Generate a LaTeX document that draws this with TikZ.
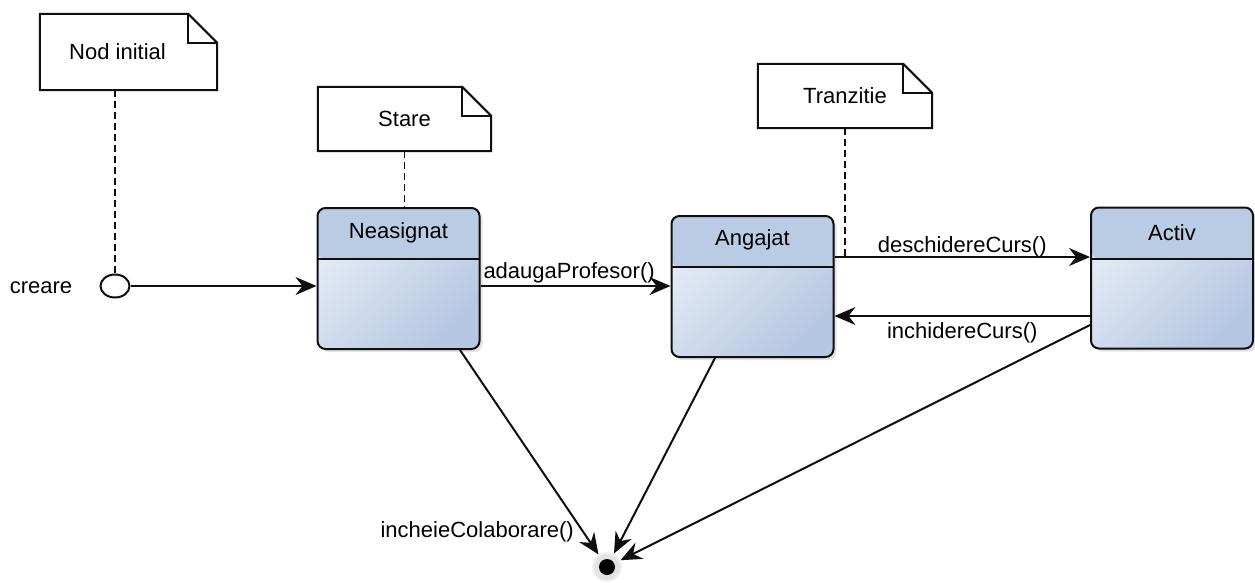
\documentclass[tikz,border=0pt]{standalone}
\usepackage{fontspec}
\setmainfont{Liberation Sans}
\usetikzlibrary{arrows.meta,shadows,shapes.geometric,calc}

\definecolor{hdr}{RGB}{185,204,228}
\definecolor{bodyA}{RGB}{230,236,246}
\definecolor{bodyB}{RGB}{181,199,226}
\definecolor{ln}{RGB}{15,15,15}

\tikzset{
  lbl/.style={font=\fontsize{22}{26}\selectfont, inner sep=0pt},
  state/.style={draw=ln, line width=2pt, rounded corners=8pt,
    minimum width=162pt, minimum height=141pt,
    top color=bodyA, bottom color=bodyB, shading angle=45,
    drop shadow={opacity=0.22, shadow xshift=3pt, shadow yshift=-3pt},
    path picture={
      \fill[hdr] (path picture bounding box.north west) rectangle
        ([yshift=-51pt]path picture bounding box.north east);
      \draw[ln, line width=2pt] ([yshift=-51pt]path picture bounding box.north west) --
        ([yshift=-51pt]path picture bounding box.north east);
    }},
  notebox/.style={inner sep=0pt},
  noteline/.style={draw=ln, line width=2pt, fill=white, line join=miter},
  arr/.style={draw=ln, line width=2pt, -{Stealth[length=21pt,width=18pt,inset=7pt]}},
  dashline/.style={draw=ln, line width=1.6pt, dash pattern=on 7pt off 4pt},
  initnode/.style={draw=ln, line width=2pt, ellipse, fill=white,
    minimum width=29pt, minimum height=23pt, inner sep=0pt},
  finalnode/.style={circle, minimum size=30pt, inner sep=0pt, fill=gray!12,
    path picture={
      \fill[gray!22] (path picture bounding box.center) circle (13pt);
      \fill[black] (path picture bounding box.center) circle (8pt);
    }},
}

% note outline with a folded top-right corner
\newcommand\notefold[1]{%
  \draw[noteline] (#1.north west) -- ([xshift=-29pt]#1.north east) --
    ([yshift=-29pt]#1.north east) -- (#1.south east) -- (#1.south west) -- cycle;
  \draw[noteline, fill=none] ([xshift=-29pt]#1.north east) |- ([yshift=-29pt]#1.north east);
}

\begin{document}
\begin{tikzpicture}[x=1pt, y=-1pt]
  \fill[white] (0,0) rectangle (1255,582);
  \useasboundingbox (0,0) rectangle (1255,582);

  % notes
  \node[notebox, minimum width=177pt, minimum height=76pt] (ninit) at (128.5,52) {};
  \notefold{ninit}
  \node[lbl] (ninitT) at ([xshift=-11pt]ninit.center) {Nod initial};

  \node[notebox, minimum width=173pt, minimum height=64pt] (nstare) at (404.5,119) {};
  \notefold{nstare}
  \node[lbl] (nstareT) at (nstare.center) {Stare};

  \node[notebox, minimum width=174pt, minimum height=64pt] (ntran) at (845,96) {};
  \notefold{ntran}
  \node[lbl] (ntranT) at (ntran.center) {Tranzitie};

  % states
  \node[state] (neas) at (398.5,278.5) {};
  \node[lbl] (neasT) at ([yshift=-26pt]neas.north) {Neasignat};

  \node[state] (anga) at (752.5,286.5) {};
  \node[lbl] (angaT) at ([yshift=-25pt]anga.north) {Angajat};

  \node[state] (activ) at (1172,278) {};
  \node[lbl] (activT) at ([yshift=-26pt]activ.north) {Activ};

  % initial and final pseudo-states
  \node[initnode] (init) at (115,286) {};
  \node[lbl] (crea) at (41,288) {creare};
  \node[finalnode] (fin) at (607,567) {};

  % note anchors
  \draw[dashline] (init.north |- ninit.south) -- (init.north);
  \draw[dashline] (nstare.south) -- (nstare.south |- neas.north);
  \coordinate (dc) at ([yshift=29.5pt]anga.east);
  \draw[dashline] (ntran.south) -- (ntran.south |- dc);

  % transitions
  \draw[arr] (init) -- (init -| neas.west);
  \draw[arr] ([yshift=-7.5pt]neas.east) -- ([yshift=-7.5pt]neas.east -| anga.west)
    node[lbl, pos=0, anchor=base west, xshift=2pt, yshift=8pt] {adaugaProfesor()};
  \draw[arr] (dc) -- (dc -| activ.west)
    node[lbl, midway, anchor=base, yshift=5pt] {deschidereCurs()};
  \draw[arr] ([yshift=-38pt]activ.west) -- ([yshift=-38pt]activ.west -| anga.east)
    node[lbl, midway, anchor=north, yshift=-6pt] {inchidereCurs()};

  \draw[arr] ([xshift=61.5pt]neas.south) -- (fin);
  \draw[arr] ([xshift=-37.5pt]anga.south) -- (fin);
  \draw[arr] ([yshift=-47pt]activ.west) -- (fin);
  \node[lbl, anchor=base east] (inc) at ([xshift=-33pt,yshift=30pt]fin.center) {incheieColaborare()};
\end{tikzpicture}
\end{document}
